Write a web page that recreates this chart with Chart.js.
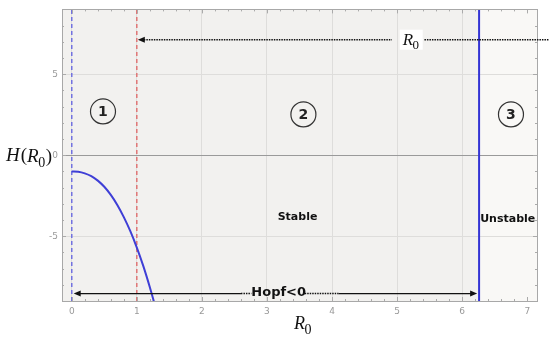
<!DOCTYPE html>
<html>
<head>
<meta charset="utf-8">
<script src="https://cdn.jsdelivr.net/npm/chart.js@4.4.1/dist/chart.umd.min.js"></script>
<style>
html,body{margin:0;padding:0;background:#fff;}
#wrap{width:550px;height:338px;position:relative;}
</style>
</head>
<body>
<div id="wrap"><canvas id="c"></canvas></div>
<script>
// ---- data ----
const curveR0 = [0, 0.1, 0.2, 0.3, 0.4, 0.5, 0.6, 0.7, 0.8, 0.9, 1.0, 1.1, 1.2, 1.27];
const curveH  = [-1, -1.02, -1.12, -1.29, -1.57, -1.95, -2.45, -3.07, -3.82, -4.69, -5.7, -6.85, -8.15, -9.15];
const blueDashedR0 = 0;
const redDashedR0 = 1;
const hopfR0 = 6.26;
const xTickLabels = [0, 1, 2, 3, 4, 5, 6, 7];
const yTickLabels = [-5, 0, 5];
const regionLabels = ['1', '2', '3'];
const stateLabels = ['Stable', 'Unstable'];

const X_MIN = -0.15, X_MAX = 7.15, Y_MIN = -9, Y_MAX = 9;

const vline = (x) => [{x: x, y: Y_MIN}, {x: x, y: Y_MAX}];

function arrowHead(ctx, tipX, tipY, dir) {
  ctx.save();
  ctx.setLineDash([]);
  ctx.fillStyle = '#111';
  ctx.beginPath();
  ctx.moveTo(tipX, tipY);
  ctx.lineTo(tipX - dir * 7, tipY - 3);
  ctx.lineTo(tipX - dir * 7, tipY + 3);
  ctx.closePath();
  ctx.fill();
  ctx.restore();
}
function seg(ctx, x1, y1, x2, y2, dash, w) {
  ctx.save();
  ctx.strokeStyle = '#111';
  ctx.lineWidth = w || 1.2;
  ctx.setLineDash(dash || []);
  ctx.beginPath();
  ctx.moveTo(x1, y1);
  ctx.lineTo(x2, y2);
  ctx.stroke();
  ctx.restore();
}
function drawR0(ctx, x, y, size, alignCenter) {
  ctx.save();
  ctx.fillStyle = '#111';
  ctx.textBaseline = 'alphabetic';
  ctx.font = 'italic ' + size + 'px "Liberation Serif", "DejaVu Serif", serif';
  const wR = ctx.measureText('R').width;
  ctx.font = Math.round(size * 0.75) + 'px "Liberation Serif", "DejaVu Serif", serif';
  const w0 = ctx.measureText('0').width;
  let sx = alignCenter ? x - (wR + w0) / 2 : x;
  ctx.font = 'italic ' + size + 'px "Liberation Serif", "DejaVu Serif", serif';
  ctx.fillText('R', sx, y);
  ctx.font = Math.round(size * 0.75) + 'px "Liberation Serif", "DejaVu Serif", serif';
  ctx.fillText('0', sx + wR - 0.5, y + size * 0.25);
  ctx.restore();
  return wR + w0;
}

const bgPlugin = {
  id: 'bg',
  beforeDraw(chart) {
    const {ctx, chartArea: a, scales: {x}} = chart;
    ctx.save();
    ctx.fillStyle = '#f2f1ef';
    ctx.fillRect(a.left, a.top, a.right - a.left, a.bottom - a.top);
    const xh = x.getPixelForValue(hopfR0);
    ctx.fillStyle = '#f9f8f6';
    ctx.fillRect(xh, a.top, a.right - xh, a.bottom - a.top);
    ctx.restore();
  }
};

const framePlugin = {
  id: 'frame',
  afterDraw(chart) {
    const {ctx, chartArea: a, scales: {x, y}} = chart;
    ctx.save();
    // frame ticks
    ctx.strokeStyle = '#aaa';
    ctx.lineWidth = 1;
    ctx.beginPath();
    for (let i = 0; i <= 35; i++) {
      const v = i * 0.2;
      const px = Math.round(x.getPixelForValue(v)) + 0.5;
      const len = (i % 5 === 0) ? 4 : 2;
      ctx.moveTo(px, a.bottom); ctx.lineTo(px, a.bottom - len);
      ctx.moveTo(px, a.top); ctx.lineTo(px, a.top + len);
    }
    for (let v = -9; v <= 9; v++) {
      const py = Math.round(y.getPixelForValue(v)) + 0.5;
      const len = (v % 5 === 0) ? 4 : 2;
      ctx.moveTo(a.left, py); ctx.lineTo(a.left + len, py);
      ctx.moveTo(a.right, py); ctx.lineTo(a.right - len, py);
    }
    ctx.stroke();
    ctx.strokeStyle = '#a8a8a8';
    ctx.strokeRect(Math.round(a.left) + 0.5, Math.round(a.top) + 0.5, Math.round(a.right - a.left), Math.round(a.bottom - a.top));
    ctx.restore();

    // ---- annotations ----
    // top arrow (R0 direction)
    const yTop = y.getPixelForValue(7.13);
    const x1 = x.getPixelForValue(1.0);
    arrowHead(ctx, x1 + 1, yTop, -1);
    seg(ctx, x1 + 7, yTop, x.getPixelForValue(4.92), yTop, [1.5, 1], 1.5);
    seg(ctx, x.getPixelForValue(5.42), yTop, 549, yTop, [1.5, 1], 1.5);
    ctx.save();
    ctx.fillStyle = '#ffffff';
    const bx = x.getPixelForValue(5.04);
    ctx.fillRect(bx, yTop - 10, 23, 20);
    ctx.restore();
    drawR0(ctx, bx + 3, yTop + 5, 17, false);

    // bottom arrow (Hopf<0)
    const yBot = y.getPixelForValue(-8.54);
    const xl = x.getPixelForValue(0.03);
    const xr = x.getPixelForValue(hopfR0 - 0.03);
    arrowHead(ctx, xl, yBot, -1);
    arrowHead(ctx, xr, yBot, 1);
    seg(ctx, xl + 6, yBot, x.getPixelForValue(2.6), yBot, [], 1.2);
    seg(ctx, x.getPixelForValue(2.6), yBot, x.getPixelForValue(2.76), yBot, [1.5, 1], 1.5);
    seg(ctx, x.getPixelForValue(3.58), yBot, x.getPixelForValue(4.1), yBot, [1.5, 1], 1.5);
    seg(ctx, x.getPixelForValue(4.1), yBot, xr - 6, yBot, [], 1.2);
    ctx.save();
    ctx.fillStyle = '#111';
    ctx.font = 'bold 13px "DejaVu Sans", sans-serif';
    ctx.textAlign = 'left';
    ctx.textBaseline = 'middle';
    ctx.fillText('Hopf<0', x.getPixelForValue(2.76), yBot - 1);
    ctx.restore();

    // circled region numbers
    const circ = [[0.48, 2.7], [3.56, 2.52], [6.75, 2.52]];
    circ.forEach((c, i) => {
      const cx = x.getPixelForValue(c[0]), cy = y.getPixelForValue(c[1]);
      ctx.save();
      ctx.strokeStyle = '#333';
      ctx.lineWidth = 1.2;
      ctx.beginPath();
      ctx.arc(cx, cy, 12.5, 0, Math.PI * 2);
      ctx.stroke();
      ctx.fillStyle = '#222';
      ctx.font = 'bold 14px "DejaVu Sans", sans-serif';
      ctx.textAlign = 'center';
      ctx.textBaseline = 'middle';
      ctx.fillText(regionLabels[i], cx, cy + 1);
      ctx.restore();
    });

    // Stable / Unstable
    ctx.save();
    ctx.fillStyle = '#111';
    ctx.font = 'bold 11px "DejaVu Sans", sans-serif';
    ctx.textAlign = 'center';
    ctx.textBaseline = 'middle';
    ctx.fillText(stateLabels[0], x.getPixelForValue(3.47), y.getPixelForValue(-3.8));
    ctx.fillText(stateLabels[1], x.getPixelForValue(6.7), y.getPixelForValue(-3.95));
    ctx.restore();

    // axis titles
    ctx.save();
    ctx.fillStyle = '#111';
    ctx.textBaseline = 'middle';
    ctx.font = 'italic 19px "Liberation Serif", "DejaVu Serif", serif';
    const y0 = y.getPixelForValue(0);
    let cx = 6;
    ctx.fillText('H', cx, y0 + 1);
    cx += ctx.measureText('H').width + 1;
    ctx.font = '19px "Liberation Serif", "DejaVu Serif", serif';
    ctx.fillText('(', cx, y0 + 1);
    cx += ctx.measureText('(').width;
    ctx.restore();
    ctx.save();
    ctx.textBaseline = 'alphabetic';
    const w = drawR0(ctx, cx, y0 + 7, 19, false);
    ctx.fillStyle = '#111';
    ctx.font = '19px "Liberation Serif", "DejaVu Serif", serif';
    ctx.fillText(')', cx + w, y0 + 7);
    ctx.restore();
    drawR0(ctx, 303, 329, 18, true);
  }
};

new Chart(document.getElementById('c'), {
  type: 'scatter',
  data: {
    datasets: [
      {
        data: curveR0.map((v, i) => ({x: v, y: curveH[i]})),
        showLine: true, borderColor: '#3f3fd6', borderWidth: 2, pointRadius: 0, tension: 0.3
      },
      {
        data: vline(blueDashedR0), showLine: true, borderColor: '#7272e0', borderWidth: 1.5,
        borderDash: [4, 3], pointRadius: 0
      },
      {
        data: vline(redDashedR0), showLine: true, borderColor: '#e06464', borderWidth: 1.3,
        borderDash: [4, 3], pointRadius: 0
      },
      {
        data: vline(hopfR0), showLine: true, borderColor: '#3434d4', borderWidth: 2, pointRadius: 0
      }
    ]
  },
  options: {
    responsive: true,
    maintainAspectRatio: false,
    animation: false,
    layout: {padding: {left: 0, right: 13, top: 8, bottom: 0}},
    plugins: {legend: {display: false}, tooltip: {enabled: false}},
    scales: {
      x: {
        type: 'linear', min: X_MIN, max: X_MAX,
        afterBuildTicks: (s) => { s.ticks = xTickLabels.map(v => ({value: v})); },
        afterFit: (s) => { s.height = 37; },
        ticks: {color: '#999', font: {size: 9, family: '"DejaVu Sans", sans-serif'}, padding: 5},
        grid: {
          drawTicks: false,
          color: (c) => (c.tick && c.tick.value === 7) ? 'rgba(0,0,0,0)' : '#dedddb',
          lineWidth: 1
        },
        border: {display: false}
      },
      y: {
        type: 'linear', min: Y_MIN, max: Y_MAX,
        afterBuildTicks: (s) => { s.ticks = yTickLabels.map(v => ({value: v})); },
        afterFit: (s) => { s.width = 62; },
        ticks: {color: '#999', font: {size: 9, family: '"DejaVu Sans", sans-serif'}, padding: 4},
        grid: {
          drawTicks: false,
          color: (c) => (c.tick && c.tick.value === 0) ? '#9a9a9a' : '#dedddb',
          lineWidth: 1
        },
        border: {display: false}
      }
    }
  },
  plugins: [bgPlugin, framePlugin]
});
</script>
</body>
</html>
